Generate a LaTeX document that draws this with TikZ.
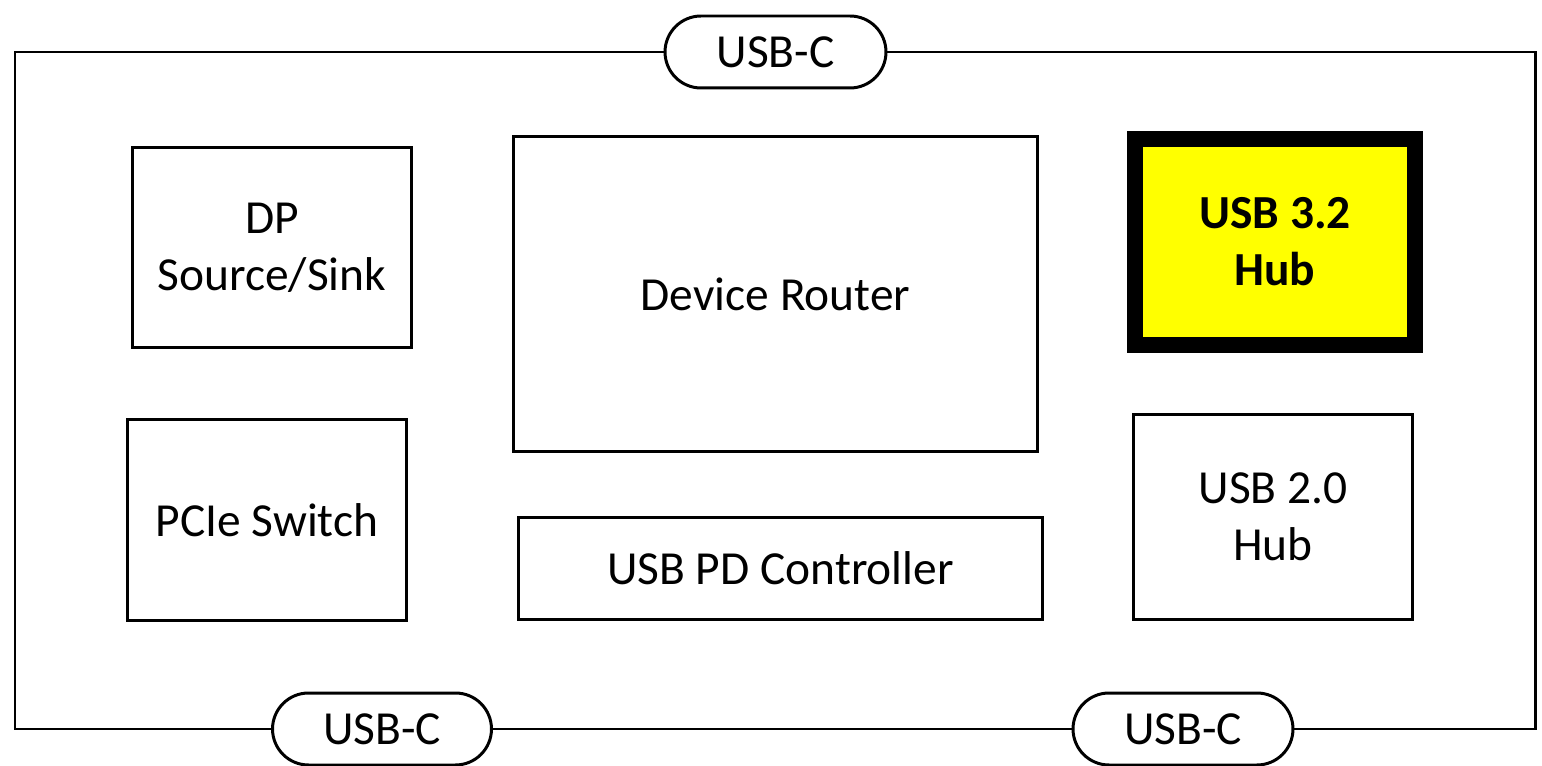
\documentclass[tikz,border=0pt]{standalone}
\usepackage{fontspec}
\setmainfont{Carlito}
\usepackage{tikz}
\usetikzlibrary{positioning}
\definecolor{hubyellow}{RGB}{255,255,0}

\begin{document}
\begin{tikzpicture}[x=0.02cm, y=-0.02cm,
    block/.style={draw, line width=1.7pt, align=center, font=\fontsize{27}{32.5}\selectfont,
        minimum width=5.6cm, inner sep=0pt},
    port/.style={draw, fill=white, line width=1.7pt, rounded corners=0.72cm,
        minimum height=1.44cm, font=\fontsize{27}{32.5}\selectfont}]
    \useasboundingbox (0,0) rectangle (1542,766);
    \draw[line width=1.7pt] (15,52) rectangle (1535,729);
    % blocks
    \node[block, minimum height=4.02cm] (dp) at (272,247.5) {DP\\Source/Sink};
    \node[block, minimum height=4.04cm] (pcie) at (267,520) {PCIe Switch};
    \node[block, minimum width=10.5cm, minimum height=6.32cm] (router) at (775.5,294) {Device Router};
    \node[block, minimum width=10.5cm, minimum height=2.06cm] (pd) at (780.5,568.5) {USB PD Controller};
    \node[block, minimum height=4.12cm, line width=9pt, fill=hubyellow,
        font=\fontsize{27}{32.5}\selectfont\bfseries] (hub3) at (1275,242) {USB 3.2\\Hub};
    \node[block, minimum height=4.12cm] (hub2) at (1273,517) {USB 2.0\\Hub};
    % connectors
    \node[port, minimum width=4.42cm] (ctop) at (775.5,52) {USB-C};
    \node[port, minimum width=4.38cm] (cleft) at (382,729) {USB-C};
    \node[port, minimum width=4.4cm] (cright) at (1183,729) {USB-C};
\end{tikzpicture}
\end{document}
